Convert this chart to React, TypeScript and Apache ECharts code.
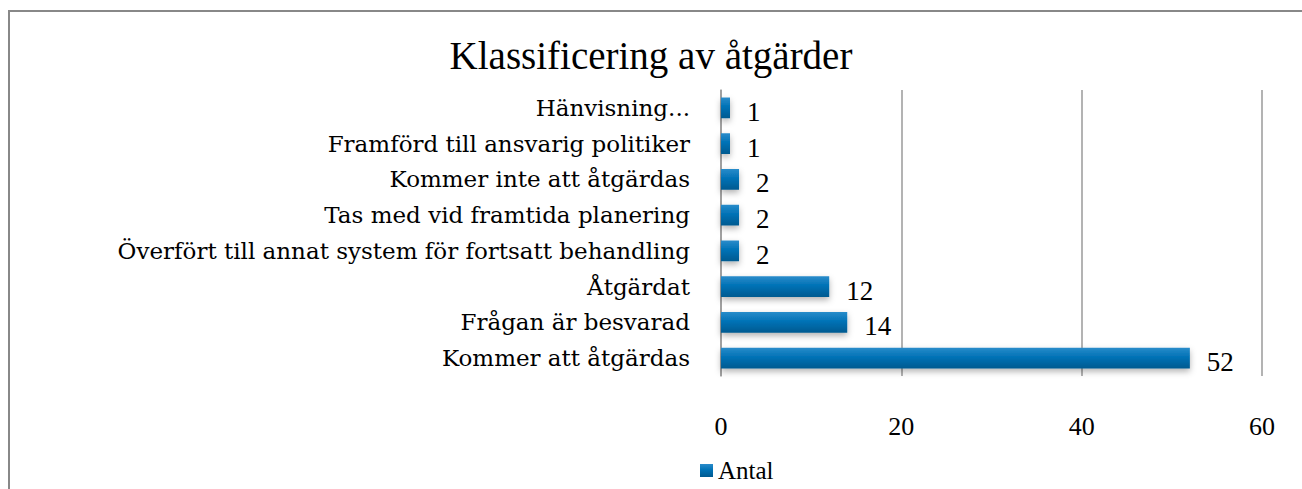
import React, { useEffect, useRef } from "react";
import * as echarts from "echarts";

const categories = [
  "Hänvisning...",
  "Framförd till ansvarig politiker",
  "Kommer inte att åtgärdas",
  "Tas med vid framtida planering",
  "Överfört till annat system för fortsatt behandling",
  "Åtgärdat",
  "Frågan är besvarad",
  "Kommer att åtgärdas",
];
const antal = [1, 1, 2, 2, 2, 12, 14, 52];
const seriesName = "Antal";
const titleText = "Klassificering av åtgärder";

const FONT = "'Liberation Serif', serif";
const WIDE = "'DejaVu Serif', serif";

export default function App() {
  const ref = useRef<HTMLDivElement>(null);
  useEffect(() => {
    document.body.style.margin = "0";
    const chart = echarts.init(ref.current!, null, { renderer: "svg" });
    const legendText = { fontFamily: FONT, fontSize: 25, color: "#000" };
    chart.setOption({
      animation: false,
      backgroundColor: "#ffffff",
      textStyle: { fontFamily: FONT },
      title: {
        text: titleText,
        left: "center",
        top: 31,
        textStyle: { fontFamily: FONT, fontSize: 39, fontWeight: "normal", color: "#000" },
      },
      graphic: [
        {
          type: "rect",
          shape: { x: 9, y: 11, width: 1310, height: 500 },
          style: { fill: "none", stroke: "#888888", lineWidth: 2 },
          silent: true,
        },
      ],
      legend: {
        data: [{ name: seriesName, textStyle: legendText }],
        top: 453,
        left: 695,
        itemWidth: 13,
        itemHeight: 13,
        itemGap: 6,
        icon: "rect",
        textStyle: legendText,
      },
      grid: { left: 721, right: 40, top: 90, bottom: 113, containLabel: false },
      xAxis: {
        type: "value",
        min: 0,
        max: 60,
        interval: 20,
        axisLine: { show: false },
        axisTick: { show: false },
        axisLabel: { fontFamily: FONT, fontSize: 26, color: "#000", margin: 37 },
        splitLine: { show: true, lineStyle: { color: "#9a9a9a", width: 1.5 } },
      },
      yAxis: {
        type: "category",
        inverse: true,
        data: categories,
        axisLine: { show: true, lineStyle: { color: "#9a9a9a", width: 1.5 } },
        axisTick: { show: false },
        axisLabel: { fontFamily: WIDE, fontSize: 23, color: "#000", margin: 31, padding: [4, 0, 0, 0] },
      },
      series: [
        {
          name: seriesName,
          type: "bar",
          data: antal,
          barCategoryGap: "42%",
          itemStyle: {
            color: new echarts.graphic.LinearGradient(0, 0, 0, 1, [
              { offset: 0, color: "#2a8cca" },
              { offset: 0.45, color: "#0072b6" },
              { offset: 1, color: "#005a90" },
            ]),
            shadowBlur: 6,
            shadowColor: "rgba(0,0,0,0.3)",
            shadowOffsetY: 3,
          },
          label: {
            show: true,
            position: "right",
            distance: 17,
            fontFamily: FONT,
            fontSize: 27,
            color: "#000",
            offset: [0, 4],
          },
        },
      ],
    });
    return () => chart.dispose();
  }, []);
  return <div ref={ref} style={{ position: "fixed", left: 0, top: 0, width: 1302, height: 489 }} />;
}
